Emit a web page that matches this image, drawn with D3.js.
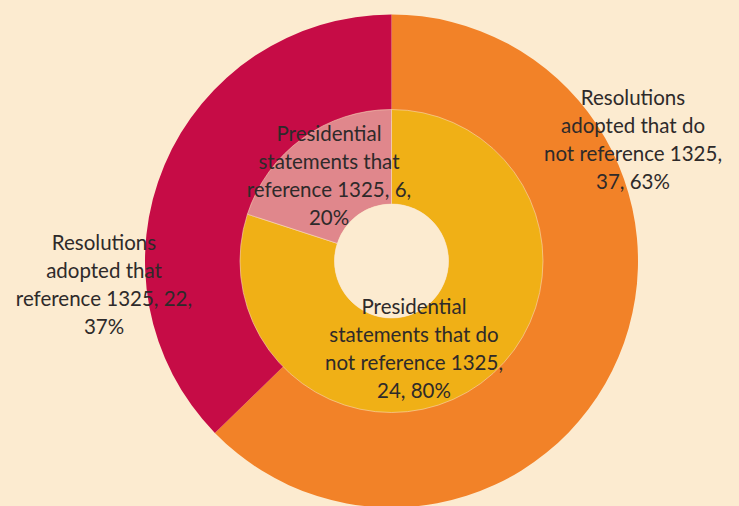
<!DOCTYPE html>
<html><head><meta charset="utf-8">
<script src="https://cdn.jsdelivr.net/npm/d3@7"></script>
<style>html,body{margin:0;padding:0;background:#FCEBD0;overflow:hidden}</style>
</head><body>
<svg id="c" width="739" height="506"></svg>
<script>
// Data
const outerCategories = ["Resolutions adopted that do not reference 1325", "Resolutions adopted that reference 1325"];
const outerValues = [37, 22];
const outerPercents = ["63%", "37%"];
const innerCategories = ["Presidential statements that do not reference 1325", "Presidential statements that reference 1325"];
const innerValues = [24, 6];
const innerPercents = ["80%", "20%"];

const outerColors = ["#F28228", "#C60C46"];
const innerColors = ["#F0B016", "#E0878C"];

// label line breaks and positions (layout, not data)
const outerLabelLines = [
  ["Resolutions", "adopted that do", "not reference 1325,", "37, 63%"],
  ["Resolutions", "adopted that", "reference 1325, 22,", "37%"]
];
const outerLabelPos = [[633, 105], [104, 250]];
const innerLabelLines = [
  ["Presidential", "statements that do", "not reference 1325,", "24, 80%"],
  ["Presidential", "statements that", "reference 1325, 6,", "20%"]
];
const innerLabelPos = [[414, 314], [329, 141]];

const svg = d3.select("#c");
svg.append("rect").attr("width", 739).attr("height", 506).attr("fill", "#FCEBD0");
const cx = 391.5, cy = 261;
const g = svg.append("g").attr("transform", `translate(${cx},${cy})`);

const pie = d3.pie().sort(null).value(d => d);
const outerArc = d3.arc().innerRadius(140).outerRadius(246.5);
const innerArc = d3.arc().innerRadius(57).outerRadius(151.5);

g.selectAll("path.o").data(pie(outerValues)).join("path")
  .attr("class", "o").attr("d", outerArc).attr("fill", (d, i) => outerColors[i]);
g.selectAll("path.i").data(pie(innerValues)).join("path")
  .attr("class", "i").attr("d", innerArc).attr("fill", (d, i) => innerColors[i])
  .attr("stroke", "#F6D9B8").attr("stroke-width", 0.6);
g.append("circle").attr("r", 57).attr("fill", "#FCEBD0");

function drawLabel(lines, pos) {
  const t = svg.append("text")
    .attr("x", pos[0]).attr("y", pos[1])
    .attr("text-anchor", "middle")
    .attr("font-family", "Lato, 'Open Sans', sans-serif")
    .attr("font-size", 20.5)
    .attr("fill", "#2E2A2A");
  lines.forEach((l, i) => {
    t.append("tspan").attr("x", pos[0]).attr("dy", i === 0 ? 0 : 28).text(l);
  });
}
outerLabelLines.forEach((l, i) => drawLabel(l, outerLabelPos[i]));
innerLabelLines.forEach((l, i) => drawLabel(l, innerLabelPos[i]));
</script>
</body></html>
